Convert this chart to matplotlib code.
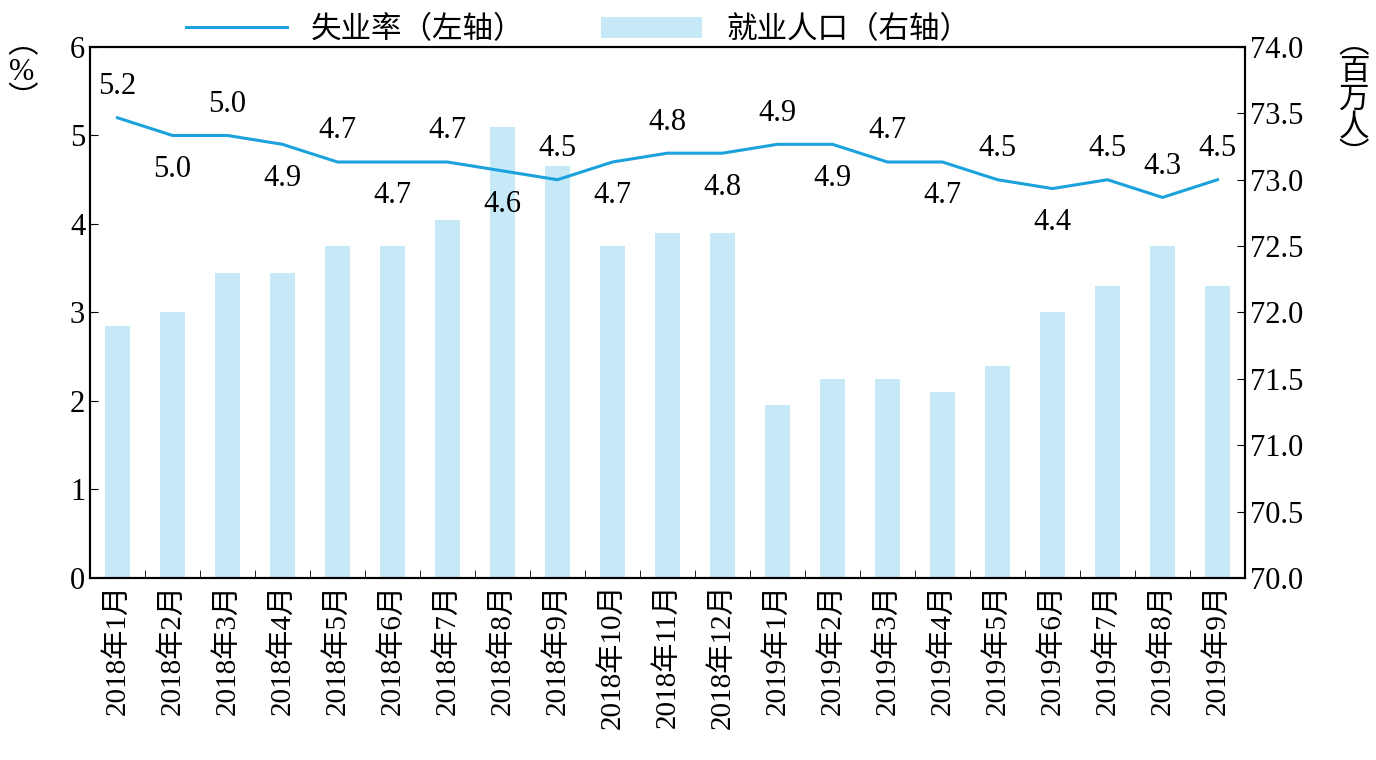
import matplotlib.pyplot as plt
import numpy as np

plt.rcParams['font.family'] = ['Liberation Serif', 'Noto Sans CJK SC']

months = ['2018年1月', '2018年2月', '2018年3月', '2018年4月', '2018年5月', '2018年6月',
          '2018年7月', '2018年8月', '2018年9月', '2018年10月', '2018年11月', '2018年12月',
          '2019年1月', '2019年2月', '2019年3月', '2019年4月', '2019年5月', '2019年6月',
          '2019年7月', '2019年8月', '2019年9月']
unemployment = [5.2, 5.0, 5.0, 4.9, 4.7, 4.7, 4.7, 4.6, 4.5, 4.7, 4.8, 4.8,
                4.9, 4.9, 4.7, 4.7, 4.5, 4.4, 4.5, 4.3, 4.5]
employed = [71.9, 72.0, 72.3, 72.3, 72.5, 72.5, 72.7, 73.4, 73.1, 72.5, 72.6, 72.6,
            71.3, 71.5, 71.5, 71.4, 71.6, 72.0, 72.2, 72.5, 72.2]

line_color = '#1ba1dc'
bar_color = '#c6e9f8'

fig = plt.figure(figsize=(13.76, 7.6), dpi=100)
ax = fig.add_axes([0.0654, 0.2395, 0.8394, 0.6987])
ax2 = ax.twinx()
x = np.arange(len(months))

b = ax2.bar(x, employed, width=0.45, color=bar_color, bottom=0)
ax2.set_ylim(70, 74)
ax2.set_yticks(np.arange(70, 74.01, 0.5))
ax2.set_yticklabels([f'{v:.1f}' for v in np.arange(70, 74.01, 0.5)], fontsize=22)

ax.set_zorder(ax2.get_zorder() + 1)
ax.patch.set_visible(False)
l, = ax.plot(x, unemployment, color=line_color, lw=2.2)
ax.set_ylim(0, 6)
ax.set_xlim(-0.5, len(months) - 0.5)
ax.set_yticks(range(7))
ax.tick_params(axis='y', labelsize=22, direction='in', length=6)
ax2.tick_params(axis='y', direction='in', length=6)
ax.set_xticks(x)
ax.set_xticklabels(months, rotation=90, fontsize=21)
ax.set_xticks(np.arange(-0.5, len(months), 1), minor=True)
ax.tick_params(axis='x', which='major', length=0, pad=4)
ax.tick_params(axis='x', which='minor', length=6, direction='in')

for i, v in enumerate(unemployment):
    above = (i % 2 == 0) or i == 19
    ax.annotate(f'{v:.1f}', (i, v), xytext=(0, 12 if above else -14),
                textcoords='offset points', ha='center',
                va='bottom' if above else 'top', fontsize=22)

for a in (ax, ax2):
    for s in a.spines.values():
        s.set_linewidth(1.5)

fig.text(0.016, 0.96, '︵\n%\n︶', fontsize=22, ha='center', va='top', linespacing=0.95)
fig.text(0.984, 0.96, '︵\n百\n万\n人\n︶', fontsize=22, ha='center', va='top', linespacing=0.95)

fig.legend([l, b], ['失业率（左轴）', '就业人口（右轴）'], loc='upper left',
           bbox_to_anchor=(0.115, 1.015), ncol=2, frameon=False, fontsize=22,
           handlelength=3.3, columnspacing=2.5)

fig.savefig('out.png', dpi=100)
